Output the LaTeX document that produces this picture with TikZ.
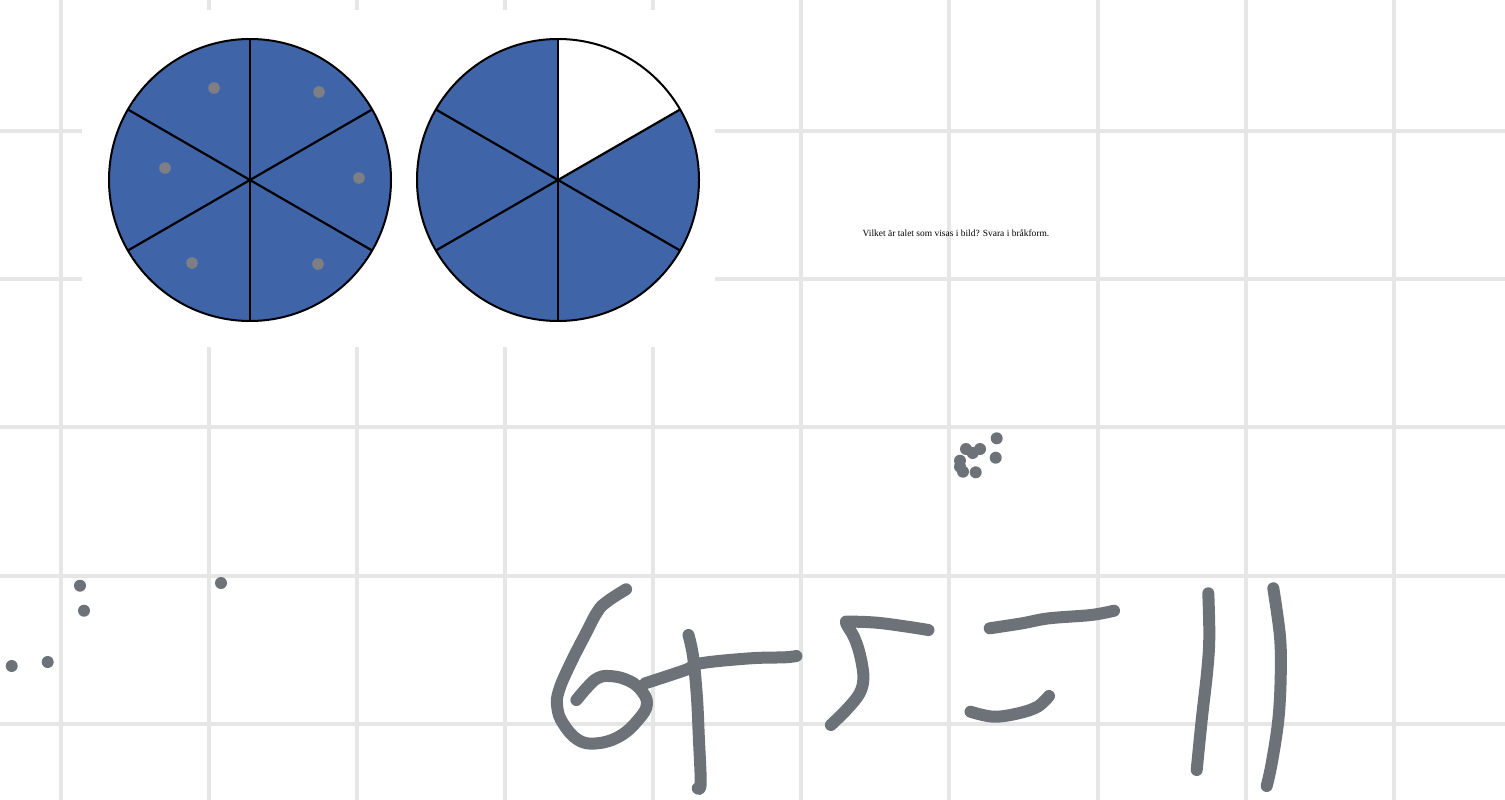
\documentclass[tikz,border=0pt]{standalone}
\usepackage{fontspec}
\setmainfont{Liberation Serif}
\definecolor{gridc}{RGB}{230,230,230}
\definecolor{pieblue}{RGB}{63,101,168}
\definecolor{ink}{RGB}{108,114,120}
\definecolor{dotgray}{RGB}{125,127,130}
\tikzset{
  gridline/.style={draw=gridc, line width=4pt},
  inkstroke/.style={draw=ink, line width=12pt, line cap=round, line join=round},
  inkdot/.style={fill=ink},
  piedot/.style={fill=dotgray},
  spoke/.style={draw=black, line width=2.2pt},
  rim/.style={draw=black, line width=2pt},
}
\begin{document}
\begin{tikzpicture}[x=1pt,y=-1pt]
\useasboundingbox (0,0) rectangle (1505,800);
\fill[white] (0,0) rectangle (1505,800);
% grid
\foreach \gx in {61,209,357,505,653,801,949,1098,1246,1394}
  \draw[gridline] (\gx,0) -- (\gx,800);
\foreach \gy in {131,279,427,576,724}
  \draw[gridline] (0,\gy) -- (1505,\gy);
% white panel behind the pies
\fill[white] (82,10) rectangle (715,347);
% left pie
\coordinate (c1) at (250,180);
\fill[pieblue] (c1) circle[radius=141pt];
\draw[spoke] (250,39) -- (250,321);
\draw[spoke] (372.1,109.5) -- (127.9,250.5);
\draw[spoke] (372.1,250.5) -- (127.9,109.5);
\draw[rim] (c1) circle[radius=141pt];
\foreach \px/\py in {214/88,319/92,165/168,359/178,192/263,318/264}
  \fill[piedot] (\px,\py) circle[radius=5.8pt];
% right pie
\coordinate (c2) at (558,180);
\fill[pieblue] (c2) circle[radius=141pt];
\fill[white] (c2) -- (680.1,109.5) arc[start angle=30, end angle=90, radius=141pt] -- cycle;
\draw[spoke] (558,39) -- (558,321);
\draw[spoke] (680.1,109.5) -- (435.9,250.5);
\draw[spoke] (680.1,250.5) -- (435.9,109.5);
\draw[rim] (c2) circle[radius=141pt];
% question text
\node[font=\fontsize{9.45}{11}\selectfont, inner sep=0pt] (q) at (956,233) {Vilket är talet som visas i bild? Svara i bråkform.};
% dot cluster
\foreach \px/\py in {996.7/438.3,966/449,980/449,972.7/453,960/460.7,960/466.7,963/471.7,975.7/472.3,995.7/457.7}
  \fill[inkdot] (\px,\py) circle[radius=6pt];
% scattered dots
\foreach \px/\py in {80/585.7,84/610.7,221/583,11.7/666,47.7/662}
  \fill[inkdot] (\px,\py) circle[radius=6pt];
% handwriting "6"
\draw[inkstroke] plot[smooth, tension=0.7] coordinates {(626.1,589.3) (607,601.7) (597.4,611.7) (585.9,633.3) (570.6,663.3) (559.1,690) (557.2,706.7) (563,723.3) (578.3,740) (597.4,743.3) (620,736) (638,720) (647,704) (640,689) (626,679.5) (608.9,676) (597.4,678.3) (587.8,686.7) (576.4,700)};
% "+"
\draw[inkstroke] plot[smooth, tension=0.6] coordinates {(645.2,683.3) (685.4,670) (700.7,663.3) (750.5,658.3) (784.9,657.3) (796.4,656)};
\draw[inkstroke] plot[smooth, tension=0.6] coordinates {(688.5,635) (693.1,656.7) (696.9,696.7) (698.8,736.7) (700.7,783.3) (697.7,788.3)};
% "5"
\draw[inkstroke] plot[smooth, tension=0.6] coordinates {(830.9,725) (846.2,710) (859.6,693.3) (863.4,676.7) (859.6,653.3) (853.8,636.7) (846.2,623.3) (850,621.7) (876.8,622.7) (907.4,626.7) (928.4,630)};
% "="
\draw[inkstroke] plot[smooth, tension=0.6] coordinates {(989.7,628.3) (1022.2,623.3) (1049,618.3) (1091.1,615) (1114,610.7)};
\draw[inkstroke] plot[smooth, tension=0.6] coordinates {(970.5,711.7) (993.5,716.7) (1018.4,713.3) (1037.5,706.7) (1049,696)};
% "11"
\draw[inkstroke] plot[smooth, tension=0.6] coordinates {(1208.3,593.3) (1209.3,636.7) (1207.3,670) (1201.7,720) (1196.7,770)};
\draw[inkstroke] plot[smooth, tension=0.6] coordinates {(1273.3,588.3) (1280,636.7) (1280.7,676.7) (1278.3,720) (1271.7,763.3) (1266.7,786)};
\end{tikzpicture}
\end{document}
